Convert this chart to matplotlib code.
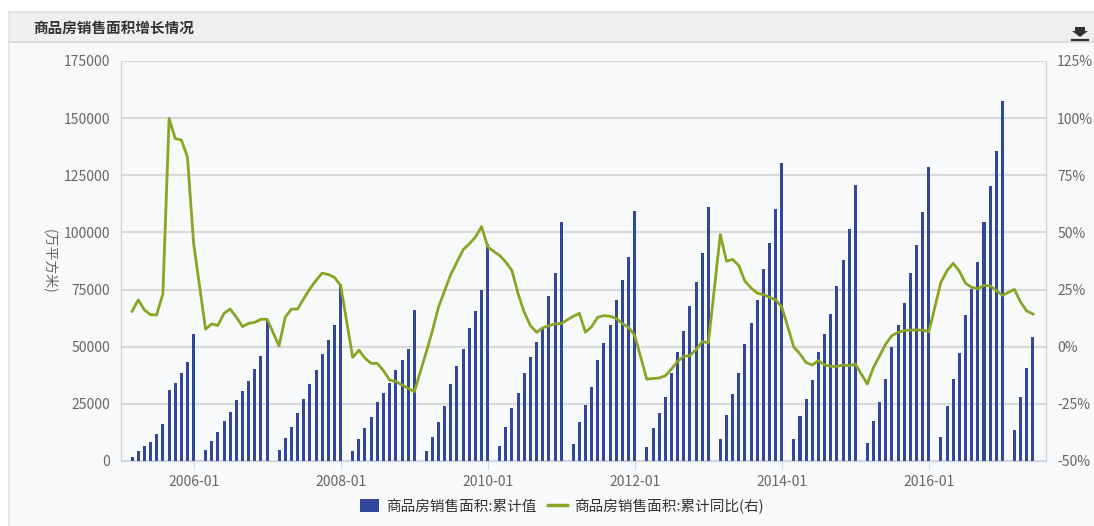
import numpy as np
import pandas as pd
import matplotlib
matplotlib.use('Agg')
import matplotlib.pyplot as plt
import matplotlib.dates as mdates
from matplotlib.patches import Rectangle, Polygon, FancyBboxPatch
from matplotlib.lines import Line2D

plt.rcParams['font.family'] = ['Noto Sans CJK SC', 'DejaVu Sans']

title = '商品房销售面积增长情况'
bar_label = '商品房销售面积:累计值'
line_label = '商品房销售面积:累计同比(右)'
y_label = '(万平方米)'

# months with data: Feb..Dec each year (Jan is reported together with Feb), 2005-02 .. 2017-05
months = [m for m in pd.date_range('2005-02-01', '2017-05-31', freq='ME') if m.month != 1]

# cumulative sales area, 10k m2 (one row per year, Feb..Dec)
area_cum = [
    1800, 4400, 6400, 8500, 11700, 16100, 31000, 34000, 38700, 43100, 55486,       # 2005
    5000, 8800, 12900, 17700, 21500, 26600, 30800, 35100, 40400, 45800, 61857,     # 2006
    5000, 10200, 14900, 20800, 27300, 33600, 39900, 46800, 53100, 59500, 77355,    # 2007
    4400, 9800, 14300, 19200, 25600, 29800, 34100, 39800, 44200, 49000, 65970,     # 2008
    4400, 10700, 17100, 24100, 33600, 41700, 49000, 58000, 65800, 74900, 94755,    # 2009
    6400, 14900, 23000, 29800, 38700, 45300, 52000, 58800, 72400, 82300, 104349,   # 2010
    7300, 17100, 24400, 32500, 44200, 51500, 59500, 70600, 79100, 89200, 109366,   # 2011
    6300, 14300, 20800, 28200, 38700, 47800, 56700, 68000, 78100, 91200, 111304,   # 2012
    9500, 20200, 29200, 38700, 51000, 60400, 70600, 83900, 95500, 110400, 130551,  # 2013
    9500, 19600, 27000, 35500, 47800, 55700, 64300, 76500, 88000, 101300, 120649,  # 2014
    7900, 17500, 25600, 35700, 50000, 59500, 69000, 82300, 94600, 108800, 128495,  # 2015
    10700, 24000, 35700, 47400, 63900, 75300, 87100, 104500, 120200, 135500, 157349,  # 2016
    13500, 28200, 40900, 54100,                                                    # 2017
]

# cumulative YoY growth, %
yoy = [
    15.5, 20.5, 16.1, 14.0, 13.9, 23.1, 99.9, 91.1, 90.4, 83.0, 45.0,     # 2005
    7.7, 10.0, 9.3, 14.6, 16.5, 12.9, 8.8, 10.2, 10.7, 12.0, 12.0,        # 2006
    0.4, 12.9, 16.4, 16.5, 20.9, 25.3, 29.0, 32.2, 31.6, 30.4, 26.8,      # 2007
    -4.7, -1.5, -5.0, -7.3, -7.3, -10.5, -14.6, -15.2, -16.7, -18.1, -19.7,  # 2008
    -2.5, 7.0, 17.3, 24.6, 31.6, 37.0, 42.5, 45.0, 48.0, 52.6, 43.6,      # 2009
    39.9, 37.0, 33.3, 23.1, 15.1, 9.2, 6.3, 8.2, 9.2, 10.0, 10.1,         # 2010
    13.3, 14.6, 6.3, 8.8, 12.9, 13.6, 13.3, 12.4, 10.1, 8.5, 4.9,         # 2011
    -14.2, -13.9, -13.7, -12.7, -9.8, -6.4, -4.2, -3.9, -1.3, 2.2, 1.8,   # 2012
    49.1, 37.4, 38.2, 35.5, 28.7, 25.7, 23.4, 22.8, 21.6, 20.5, 17.3,     # 2013
    -0.1, -3.2, -6.9, -8.0, -6.1, -7.9, -8.6, -8.6, -8.0, -8.3, -7.6,     # 2014
    -16.3, -9.1, -4.0, 1.2, 4.8, 6.3, 7.0, 7.3, 7.3, 7.3, 6.5,            # 2015
    28.2, 33.3, 36.5, 33.0, 27.8, 26.0, 25.4, 26.8, 26.6, 24.6, 22.5,     # 2016
    25.1, 19.5, 15.7, 14.3,                                               # 2017
]

x_ticks = ['2006-01', '2008-01', '2010-01', '2012-01', '2014-01', '2016-01']
left_ticks = list(range(0, 175001, 25000))
right_ticks = list(range(-50, 126, 25))

bar_color = '#33479a'
line_color = '#8aa424'
grid_color = '#d9d9d9'
text_color = '#666666'
body_bg = '#f8f9fb'

W, H = 1094, 526
fig = plt.figure(figsize=(W / 100, H / 100), dpi=100, facecolor='white')

# panel body + header band
fig.patches.append(Rectangle((9 / W, 0), 1 - 9 / W, 1 - 42 / H, transform=fig.transFigure,
                             facecolor=body_bg, edgecolor='none', zorder=-10))
fig.patches.append(Rectangle((9 / W, 1 - 42 / H), 1 - 9 / W, 30 / H, transform=fig.transFigure,
                             facecolor='#efefef', edgecolor='none', zorder=-9))
for yy, c in [(12, '#dddddd'), (42, '#d6d6d6')]:
    fig.add_artist(Line2D([9 / W, 1], [1 - yy / H, 1 - yy / H], color=c, lw=1.2,
                          transform=fig.transFigure))
fig.add_artist(Line2D([9 / W, 9 / W], [0, 1 - 12 / H], color='#e2e2e2', lw=1.2,
                      transform=fig.transFigure))
fig.text(33 / W, 1 - 28 / H, title, fontsize=10.5, fontweight='bold', color='#333333',
         ha='left', va='center')

# download icon
ax_icon = [(1075, 27), (1085, 27), (1085, 31), (1088, 31), (1080, 37), (1072, 31), (1075, 31)]
fig.patches.append(Polygon([(x / W, 1 - y / H) for x, y in ax_icon], closed=True,
                           transform=fig.transFigure, facecolor='#333333', edgecolor='none'))
fig.add_artist(Line2D([1072 / W, 1088 / W], [1 - 40 / H, 1 - 40 / H], color='#333333', lw=1.6,
                      transform=fig.transFigure))

ax = fig.add_axes([121 / W, 1 - 461 / H, (1046 - 121) / W, 400 / H])
ax.set_facecolor(body_bg)
ax2 = ax.twinx()

ax.bar(months, area_cum, width=15, color=bar_color, zorder=3)
ax2.plot(months, yoy, color=line_color, lw=2, zorder=4)

ax.set_ylim(0, 175000)
ax2.set_ylim(-50, 125)
ax.set_xlim(pd.Timestamp('2005-01-04'), pd.Timestamp('2017-08-04'))

ax.set_yticks(left_ticks)
ax.set_yticklabels([str(v) for v in left_ticks])
ax2.set_yticks(right_ticks)
ax2.set_yticklabels([f'{v}%' for v in right_ticks])
ax.set_xticks([pd.Timestamp(t + '-01') for t in x_ticks])
ax.set_xticklabels(x_ticks)

ax.yaxis.grid(True, color=grid_color, lw=1.5, zorder=0)
ax.set_axisbelow(True)

for a in (ax, ax2):
    for s in ('top',):
        a.spines[s].set_visible(False)
    a.spines['left'].set_color('#d0d0d0')
    a.spines['right'].set_color('#d0d0d0')
    a.spines['bottom'].set_color('#ccd6eb')
    a.tick_params(axis='y', length=0, labelsize=10, labelcolor=text_color)

ax.tick_params(axis='y', pad=8)
ax2.tick_params(axis='y', pad=8)
ax.tick_params(axis='x', length=6, color='#ccd6eb', labelsize=10, labelcolor=text_color, pad=4)

ax.set_ylabel(y_label, rotation=270, fontsize=10, color=text_color, labelpad=6)
ax.yaxis.set_label_coords(-78 / (1046 - 121), 0.5)

handles = [FancyBboxPatch((0, 0), 1, 1, boxstyle='round,pad=0.05', facecolor=bar_color, edgecolor='none'),
           Line2D([0], [0], color=line_color, lw=2.5)]
fig.legend(handles, [bar_label, line_label], loc='center', bbox_to_anchor=(562 / W, 1 - 506 / H),
           ncol=2, frameon=False, fontsize=10.5, labelcolor='#333333', handlelength=1.3,
           handleheight=1.0, handletextpad=0.5, columnspacing=0.8)

fig.savefig('out.png', dpi=100, facecolor='white')
